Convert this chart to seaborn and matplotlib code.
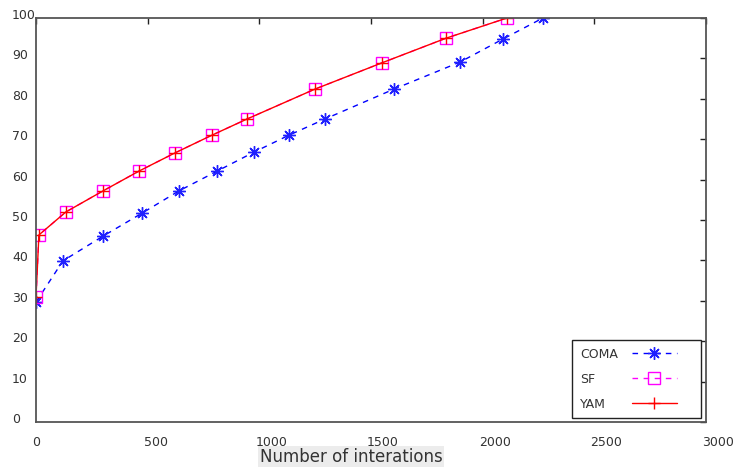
import matplotlib
matplotlib.use("Agg")
import numpy as np
import matplotlib.pyplot as plt
import matplotlib.transforms as mtransforms
from matplotlib.lines import Line2D
from matplotlib.legend_handler import HandlerLine2D
import seaborn as sns

# --- dados ---
coma_x = [0, 121, 300, 475, 640, 811, 976, 1133, 1294, 1603, 1899, 2091, 2270]
coma_y = [29.7, 39.9, 46.0, 51.7, 57.2, 62.1, 66.8, 71.0, 75.0, 82.4, 89.1, 94.8, 100]

sf_x = [0, 13, 134, 300, 461, 622, 788, 945, 1249, 1549, 1836, 2109]
sf_y = [30.9, 46.3, 52.0, 57.2, 62.1, 66.6, 71.0, 75.0, 82.4, 88.9, 95.0, 100]

yam_x = sf_x
yam_y = sf_y

x_ticks = [0, 500, 1000, 1500, 2000, 2500, 3000]
y_ticks = [0, 10, 20, 30, 40, 50, 60, 70, 80, 90, 100]


class HandlerCurto(HandlerLine2D):
    # amostra da legenda só na parte esquerda da caixa (sobra espaço à direita)
    def get_xdata(self, legend, xdescent, ydescent, width, height, fontsize):
        w = width * 0.73
        xdata = np.array([-xdescent, -xdescent + w])
        return xdata, np.array([-xdescent + w / 2])


sns.set_style("white")
plt.rcParams['font.family'] = ['DejaVu Sans']

fig = plt.figure(figsize=(7.34, 4.67), dpi=100)
ax = fig.add_axes([36 / 734, 1 - 422 / 467, 670 / 734, 404 / 467])

sns.lineplot(x=coma_x, y=coma_y, ax=ax, estimator=None, sort=False,
             color='#0000ff', linestyle=(0, (4, 4)), linewidth=1.0,
             marker=(8, 2, 0), markersize=9, markeredgecolor='#2020ff',
             markeredgewidth=1.0, label='COMA')
sns.lineplot(x=sf_x, y=sf_y, ax=ax, estimator=None, sort=False,
             color='#ff00ff', linestyle=(0, (4, 4)), linewidth=1.0,
             marker='s', markersize=8, markerfacecolor='none',
             markeredgecolor='#ff00ff', markeredgewidth=1.0, label='SF')
sns.lineplot(x=yam_x, y=yam_y, ax=ax, estimator=None, sort=False,
             color='#ff0000', linestyle='-', linewidth=1.0,
             marker='+', markersize=9, markeredgecolor='#ff0000',
             markeredgewidth=1.0, label='YAM')

ax.set_xlim(0, 3000)
ax.set_ylim(0, 100)
ax.set_xticks(x_ticks)
ax.set_yticks(y_ticks)
ax.set_xticklabels([str(t) for t in x_ticks], ha='left')
ax.set_yticklabels([str(t) for t in y_ticks], ha='left')

ax.tick_params(direction='in', length=4, width=1, color='#222222',
               top=True, right=True, labelsize=9, labelcolor='#333333')
ax.tick_params(axis='y', pad=24 * 72 / 100)
ax.tick_params(axis='x', pad=14 * 72 / 100)
for side in ['left', 'bottom', 'right', 'top']:
    ax.spines[side].set_color('#555555')
    ax.spines[side].set_linewidth(1.3)
    ax.spines[side].set_visible(True)

ax.set_xlabel('Number of interations', fontsize=12, color='#333333',
              va='center', bbox=dict(facecolor='#ececec', edgecolor='none', pad=1.5))
ax.xaxis.set_label_coords(0.47, -0.087)
ax.set_ylabel('')

leg = ax.legend(loc='lower right', bbox_to_anchor=(1 - 5 / 670, 4 / 404),
                markerfirst=False, fancybox=False, frameon=True, framealpha=1,
                edgecolor='#222222', fontsize=9, handlelength=4.96,
                handler_map={Line2D: HandlerCurto()},
                labelspacing=0.95, borderpad=0.6, handletextpad=1.1, borderaxespad=0)
leg.get_frame().set_linewidth(1.0)
for t in leg.get_texts():
    t.set_color('#333333')

# texto da legenda alinhado à esquerda, amostras alinhadas à direita
fig.canvas.draw()
renderer = fig.canvas.get_renderer()
larguras = [t.get_window_extent(renderer).width * 72 / fig.dpi for t in leg.get_texts()]
maior = max(larguras)
for coluna in leg._legend_handle_box.get_children():
    coluna.align = 'left'
    for item, w in zip(coluna.get_children(), larguras):
        item.sep = 1.1 * 9 + (maior - w)

# deslocar rótulos (estilo gnuplot)
off_y = mtransforms.ScaledTranslation(0, 4 / 100, fig.dpi_scale_trans)
for lab in ax.get_yticklabels():
    lab.set_transform(lab.get_transform() + off_y)
off_x = mtransforms.ScaledTranslation(-4 / 100, 0, fig.dpi_scale_trans)
for lab in ax.get_xticklabels():
    lab.set_transform(lab.get_transform() + off_x)

plt.savefig('out.png', dpi=100)
